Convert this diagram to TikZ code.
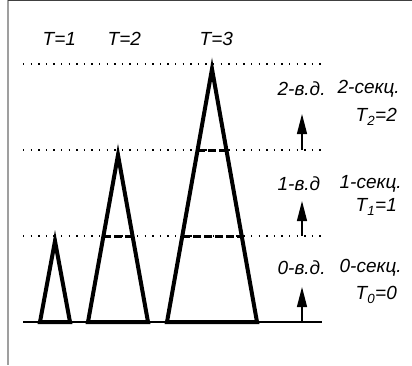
\documentclass[tikz,border=0pt]{standalone}
\usepackage{fontspec}
\setmainfont{Liberation Sans}
\usetikzlibrary{arrows.meta,calc}

\begin{document}
\begin{tikzpicture}[x=1pt,y=-1pt,line width=1.3pt,
  lbl/.style={font=\fontsize{19}{22}\selectfont\itshape,inner sep=0pt,anchor=west},
  tri/.style={line width=4pt,line join=miter},
  lvl/.style={line width=1.3pt,dash pattern=on 1.3pt off 6.3pt},
  cut/.style={line width=3pt,dash pattern=on 8pt off 3pt},
  up/.style={-{Triangle[length=20pt,width=10pt]}}]
  \useasboundingbox (0,0) rectangle (412,365);
  \draw[gray!75,line width=1.6pt] (8,0) -- (8,365);
  \draw[black!75,line width=1.2pt] (8,0.6) -- (412,0.6);

  % levels
  \coordinate (S0) at (23,322);  \coordinate (E0) at (322,322);
  \coordinate (S1) at (23,236);  \coordinate (E1) at (322,236);
  \coordinate (S2) at (23,150);  \coordinate (E2) at (322,150);
  \coordinate (S3) at (23,64);   \coordinate (E3) at (322,64);
  \draw (S0) -- (E0);
  \draw[lvl] (S1) -- (E1);
  \draw[lvl] (S2) -- (E2);
  \draw[lvl] (S3) -- (E3);

  % trees
  \coordinate (L1) at (40,322);  \coordinate (A1) at (55,241);  \coordinate (R1) at (70,322);
  \coordinate (L2) at (88,322);  \coordinate (A2) at (118,155); \coordinate (R2) at (148,322);
  \coordinate (L3) at (167,322); \coordinate (A3) at (212,69);  \coordinate (R3) at (257,322);
  \draw[tri] (L1) -- (A1) -- (R1) -- cycle;
  \draw[tri] (L2) -- (A2) -- (R2) -- cycle;
  \draw[tri] (L3) -- (A3) -- (R3) -- cycle;
  \draw[cut] ($(L2)!0.51!(A2)$) -- ($(R2)!0.51!(A2)$);
  \draw[cut] ($(L3)!0.336!(A3)$) -- ($(R3)!0.336!(A3)$);
  \draw[cut] ($(L3)!0.676!(A3)$) -- ($(R3)!0.676!(A3)$);

  % steps
  \coordinate (B0) at (302,322); \coordinate (P0) at (302,287);
  \coordinate (B1) at (302,236); \coordinate (P1) at (302,201);
  \coordinate (B2) at (302,150); \coordinate (P2) at (302,114);
  \draw[up] (B0) -- (P0);
  \draw[up] (B1) -- (P1);
  \draw[up] (B2) -- (P2);

  \node[lbl] (t1) at (42,39) {T=1};
  \node[lbl] (t2) at (107,39) {T=2};
  \node[lbl] (t3) at (199,39) {T=3};

  \node[lbl] (v0) at (277,268) {0-в.д.};
  \node[lbl] (s0) at (339,268) {0-секц.};
  \node[lbl] (T0) at (355,295) {T\textsubscript{0}=0};
  \node[lbl] (v1) at (277,184) {1-в.д};
  \node[lbl] (s1) at (339,184) {1-секц.};
  \node[lbl] (T1) at (355,207) {T\textsubscript{1}=1};
  \node[lbl] (v2) at (277,89) {2-в.д.};
  \node[lbl] (s2) at (337,89) {2-секц.};
  \node[lbl] (T2) at (355,117) {T\textsubscript{2}=2};
\end{tikzpicture}
\end{document}
